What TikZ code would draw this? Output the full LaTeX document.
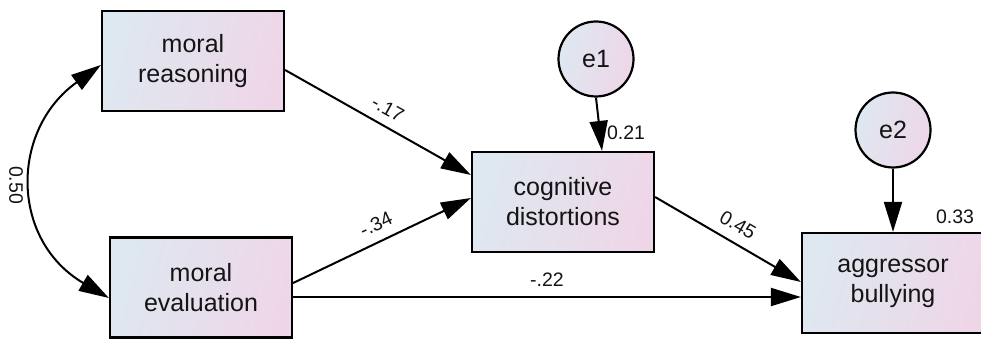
\documentclass[tikz,border=0pt]{standalone}
\usepackage{fontspec}
\setmainfont{Liberation Sans}
\usetikzlibrary{arrows.meta,calc}
\definecolor{shadeL}{RGB}{222,232,240}
\definecolor{shadeR}{RGB}{238,214,232}
\definecolor{ink}{RGB}{20,20,20}
\begin{document}
\begin{tikzpicture}[x=1pt,y=-1pt,
  var/.style={rectangle, draw=black, line width=2.2pt, inner sep=0pt,
    minimum width=182pt, minimum height=100pt, align=center,
    left color=shadeL, right color=shadeR, shading angle=75, text=ink,
    font=\fontsize{25}{30}\selectfont},
  err/.style={circle, draw=black, line width=2.2pt, inner sep=0pt,
    minimum size=75pt, left color=shadeL, right color=shadeR,
    shading angle=75, text=ink, font=\fontsize{25}{30}\selectfont},
  effect/.style={line width=2pt, -{Triangle[length=30pt,width=18pt]}},
  coef/.style={text=ink, inner sep=0pt, font=\fontsize{19.5}{23}\selectfont}]
\useasboundingbox (0,0) rectangle (981,339);

% observed variables
\node[var] (mr) at (193,61)    {moral\\reasoning};
\node[var] (me) at (201,287.5) {moral\\evaluation};
\node[var] (cd) at (563,202)   {cognitive\\distortions};
\node[var] (ab) at (893,283)   {aggressor\\bullying};

% residuals
\node[err] (e1) at (596,59)  {e1};
\node[err] (e2) at (893,130) {e2};

% covariance between the two moral measures
\draw[line width=2pt, {Triangle[length=30pt,width=18pt]}-{Triangle[length=30pt,width=18pt]}]
  ($(mr.west)+(0,4)$) .. controls (10,130) and (10,240) .. ($(me.west)+(0,10.5)$);
\node[coef, rotate=-90] (c50) at (16,185) {0.50};

% regression paths
\draw[effect] ($(mr.east)+(0,9)$)    -- ($(cd.west)+(0,-27)$);
\draw[effect] ($(me.east)+(0,-4.5)$) -- ($(cd.west)+(0,-4)$);
\draw[effect] ($(me.east)+(0,9.5)$)  -- ($(ab.west)+(0,14)$);
\draw[effect] ($(cd.east)+(0,-5)$)   -- ($(ab.west)+(0,-1)$);
\draw[effect] (e1.south) -- ($(cd.north)+(39,0)$);
\draw[effect] (e2.south) -- (ab.north);

% path coefficients and explained variances
\node[coef, rotate=-29] (c17) at (388,109) {-.17};
\node[coef, rotate=25]  (c34) at (376,224) {-.34};
\node[coef]             (c22) at (547,280) {-.22};
\node[coef, rotate=-30] (c45) at (738,225) {0.45};
\node[coef]             (c21) at (626,133) {0.21};
\node[coef]             (c33) at (955,217) {0.33};
\end{tikzpicture}
\end{document}
